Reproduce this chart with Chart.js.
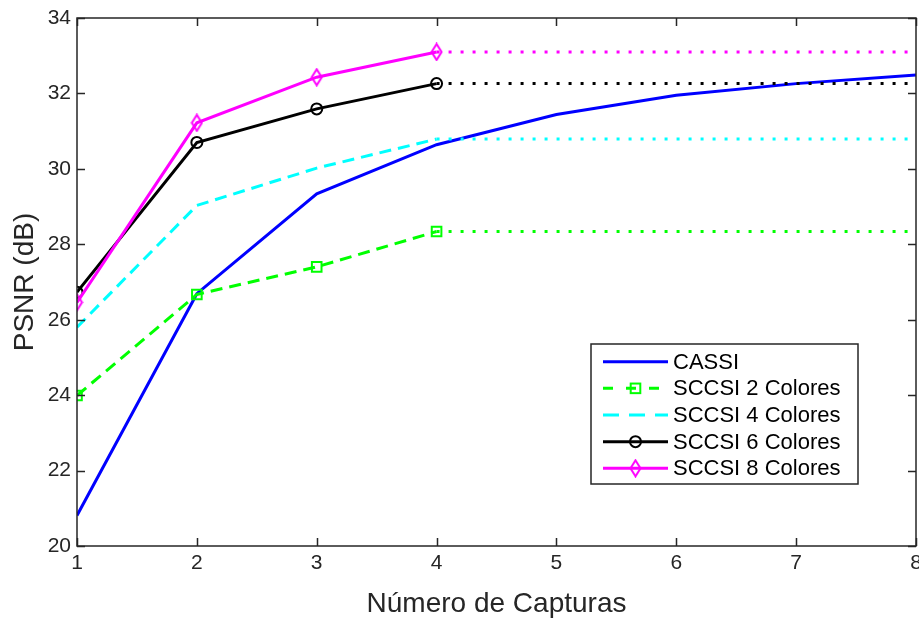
<!DOCTYPE html>
<html>
<head>
<meta charset="utf-8">
<title>PSNR vs Número de Capturas</title>
<script src="https://cdn.jsdelivr.net/npm/chart.js@4/dist/chart.umd.min.js"></script>
<style>
  html, body { margin: 0; padding: 0; background: #ffffff; }
  canvas { display: block; }
</style>
</head>
<body>
<canvas id="psnr" width="919" height="620"></canvas>
<script>
// Number of snapshots (x axis) and PSNR values in dB for each system
const capturas = [1, 2, 3, 4, 5, 6, 7, 8];
const cassi    = [20.81, 26.69, 29.34, 30.64, 31.44, 31.95, 32.26, 32.49];
const sccsi2   = [23.99, 26.67, 27.40, 28.34];
const sccsi4   = [25.80, 29.03, 30.02, 30.79];
const sccsi6   = [26.73, 30.70, 31.59, 32.26];
const sccsi8   = [26.46, 31.22, 32.43, 33.10];
const seriesLabels = ['CASSI', 'SCCSI 2 Colores', 'SCCSI 4 Colores', 'SCCSI 6 Colores', 'SCCSI 8 Colores'];
const xTicks = [1, 2, 3, 4, 5, 6, 7, 8];
const yTicks = [20, 22, 24, 26, 28, 30, 32, 34];

const FONT = '"Liberation Sans", Arial, Helvetica, sans-serif';
const AXIS_COLOR = '#262626';
const DASHED = [12, 7];
const DOTTED = [3, 9];

// Diamond marker (taller than wide)
function makeDiamond(color) {
  const c = document.createElement('canvas');
  c.width = 13; c.height = 19;
  const g = c.getContext('2d');
  g.strokeStyle = color; g.lineWidth = 2;
  g.beginPath();
  g.moveTo(6.5, 1.5); g.lineTo(11.5, 9.5); g.lineTo(6.5, 17.5); g.lineTo(1.5, 9.5);
  g.closePath(); g.stroke();
  return c;
}
const diamond = makeDiamond('#ff00ff');

function points(vals) {
  return vals.map((v, i) => ({ x: capturas[i], y: v }));
}
// Flat continuation of a series from its last capture to the end of the axis
function continuation(vals) {
  const last = vals[vals.length - 1];
  return [
    { x: capturas[vals.length - 1], y: last },
    { x: capturas[capturas.length - 1], y: last }
  ];
}

const base = { fill: false, tension: 0, borderWidth: 3, borderCapStyle: 'butt', pointHoverRadius: 0 };

const datasets = [
  Object.assign({}, base, { label: seriesLabels[0], data: points(cassi), borderColor: '#0000ff', pointRadius: 0, order: 5 }),
  Object.assign({}, base, { label: seriesLabels[1], data: points(sccsi2), borderColor: '#00ff00', borderDash: DASHED,
    pointStyle: 'rect', pointRadius: 6.8, pointBorderWidth: 2, pointBorderColor: '#00ff00', pointBackgroundColor: 'rgba(0,0,0,0)', order: 4 }),
  Object.assign({}, base, { label: 'tail', data: continuation(sccsi2), borderColor: '#00ff00', borderDash: DOTTED, pointRadius: 0, order: 4.5 }),
  Object.assign({}, base, { label: seriesLabels[2], data: points(sccsi4), borderColor: '#00ffff', borderDash: DASHED, pointRadius: 0, order: 3 }),
  Object.assign({}, base, { label: 'tail', data: continuation(sccsi4), borderColor: '#00ffff', borderDash: DOTTED, pointRadius: 0, order: 3.5 }),
  Object.assign({}, base, { label: seriesLabels[3], data: points(sccsi6), borderColor: '#000000',
    pointStyle: 'circle', pointRadius: 5.5, pointBorderWidth: 2, pointBorderColor: '#000000', pointBackgroundColor: 'rgba(0,0,0,0)', order: 2 }),
  Object.assign({}, base, { label: 'tail', data: continuation(sccsi6), borderColor: '#000000', borderDash: DOTTED, pointRadius: 0, order: 2.5 }),
  Object.assign({}, base, { label: seriesLabels[4], data: points(sccsi8), borderColor: '#ff00ff',
    pointStyle: diamond, pointRadius: 5, order: 1 }),
  Object.assign({}, base, { label: 'tail', data: continuation(sccsi8), borderColor: '#ff00ff', borderDash: DOTTED, pointRadius: 0, order: 1.5 })
];

// Box around the plot with inward tick marks on all four sides
const boxAxes = {
  id: 'boxAxes',
  afterDatasetsDraw(chart) {
    const { ctx, chartArea: a, scales: { x, y } } = chart;
    const len = 8;
    ctx.save();
    ctx.strokeStyle = AXIS_COLOR;
    ctx.lineWidth = 1.5;
    ctx.beginPath();
    xTicks.forEach(t => {
      const px = Math.round(x.getPixelForValue(t)) + 0.5;
      ctx.moveTo(px, a.bottom); ctx.lineTo(px, a.bottom - len);
      ctx.moveTo(px, a.top); ctx.lineTo(px, a.top + len);
    });
    yTicks.forEach(t => {
      const py = Math.round(y.getPixelForValue(t)) + 0.5;
      ctx.moveTo(a.left, py); ctx.lineTo(a.left + len, py);
      ctx.moveTo(a.right, py); ctx.lineTo(a.right - len, py);
    });
    ctx.stroke();
    ctx.strokeRect(a.left, a.top, a.right - a.left, a.bottom - a.top);
    ctx.restore();
  }
};

// Legend box inside the plot, lower right
const boxLegend = {
  id: 'boxLegend',
  afterDraw(chart) {
    const { ctx } = chart;
    const entries = [
      { color: '#0000ff', dash: [], marker: null },
      { color: '#00ff00', dash: [10, 13], marker: 'square' },
      { color: '#00ffff', dash: [16, 10], marker: null },
      { color: '#000000', dash: [], marker: 'circle' },
      { color: '#ff00ff', dash: [], marker: 'diamond' }
    ];
    const bx = 591, by = 344, bw = 267, bh = 140;
    const x0 = 603, x1 = 668, tx = 673, rowY0 = 361.7, rowH = 26.65;
    ctx.save();
    ctx.fillStyle = '#ffffff';
    ctx.fillRect(bx, by, bw, bh);
    ctx.strokeStyle = AXIS_COLOR;
    ctx.lineWidth = 1.5;
    ctx.strokeRect(bx, by, bw, bh);
    ctx.font = '22px ' + FONT;
    ctx.textBaseline = 'middle';
    ctx.textAlign = 'left';
    entries.forEach((e, i) => {
      const yy = rowY0 + i * rowH;
      ctx.strokeStyle = e.color;
      ctx.lineWidth = 3;
      ctx.setLineDash(e.dash);
      ctx.beginPath(); ctx.moveTo(x0, yy); ctx.lineTo(x1, yy); ctx.stroke();
      ctx.setLineDash([]);
      const cx = (x0 + x1) / 2;
      ctx.lineWidth = 2;
      if (e.marker === 'square') {
        ctx.strokeRect(cx - 4.8, yy - 4.8, 9.6, 9.6);
      } else if (e.marker === 'circle') {
        ctx.beginPath(); ctx.arc(cx, yy, 5.5, 0, Math.PI * 2); ctx.stroke();
      } else if (e.marker === 'diamond') {
        ctx.drawImage(diamond, cx - diamond.width / 2, yy - diamond.height / 2);
      }
      ctx.fillStyle = '#000000';
      ctx.fillText(seriesLabels[i], tx, yy + 1);
    });
    ctx.restore();
  }
};

new Chart(document.getElementById('psnr'), {
  type: 'line',
  data: { datasets },
  plugins: [boxAxes, boxLegend],
  options: {
    responsive: false,
    devicePixelRatio: 1,
    animation: false,
    layout: { autoPadding: false, padding: { top: 18, right: 3, left: 0, bottom: 0 } },
    plugins: { legend: { display: false }, tooltip: { enabled: false } },
    scales: {
      x: {
        type: 'linear',
        min: 1, max: 8,
        afterBuildTicks(scale) { scale.ticks = xTicks.map(v => ({ value: v })); },
        afterFit(scale) { scale.height = 74; scale.paddingLeft = 0; scale.paddingRight = 0; },
        grid: { display: false, drawTicks: false },
        border: { display: false },
        ticks: { padding: 5, maxRotation: 0, color: AXIS_COLOR, font: { family: FONT, size: 21 } },
        title: { display: true, text: 'Número de Capturas', color: AXIS_COLOR,
          font: { family: FONT, size: 28 }, padding: { top: 0, bottom: -1 } }
      },
      y: {
        type: 'linear',
        min: 20, max: 34,
        afterBuildTicks(scale) { scale.ticks = yTicks.map(v => ({ value: v })); },
        afterFit(scale) { scale.width = 77; scale.paddingTop = 0; scale.paddingBottom = 0; },
        grid: { display: false, drawTicks: false },
        border: { display: false },
        ticks: { padding: 6, color: AXIS_COLOR, font: { family: FONT, size: 21 } },
        title: { display: true, text: 'PSNR (dB)', color: AXIS_COLOR,
          font: { family: FONT, size: 28 }, padding: { top: 8.5, bottom: 0 } }
      }
    }
  }
});
</script>
</body>
</html>
